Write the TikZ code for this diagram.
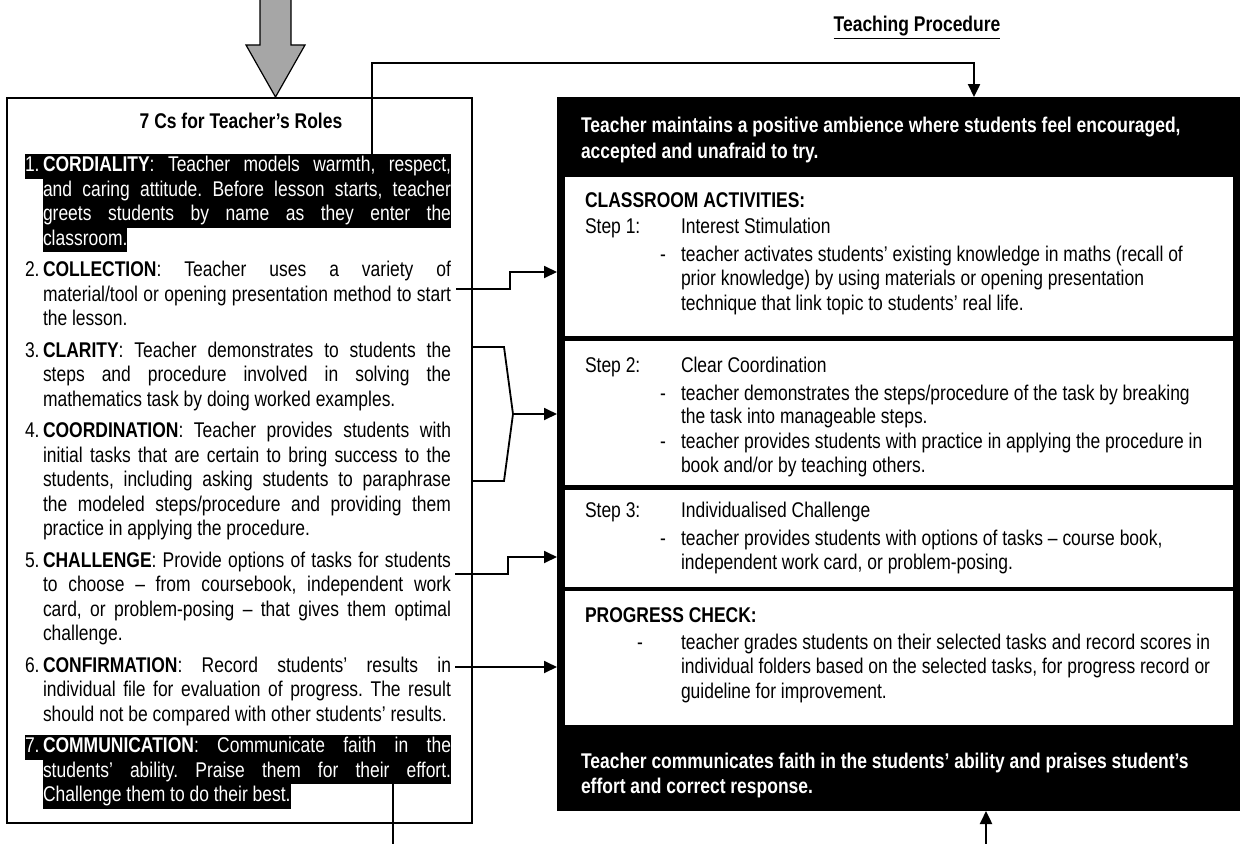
\documentclass[tikz,border=0pt]{standalone}
\usepackage{fontspec}
\setmainfont{Liberation Sans}[FakeStretch=0.82]
\usetikzlibrary{arrows.meta}
\frenchspacing
\newcommand\bodyfont{\fontsize{21.3pt}{24.5pt}\selectfont}
\tikzset{
  ltxt/.style={anchor=base west, inner sep=0pt, outer sep=0pt, font=\bodyfont, text height=17.5pt, text depth=7pt},
  hl/.style={fill=black, text=white},
  rtxt/.style={anchor=base west, inner sep=0pt, outer sep=0pt, font=\bodyfont},
  wtxt/.style={rtxt, text=white, font=\bodyfont\bfseries},
  link/.style={line width=1.8pt},
  heavy/.style={line width=2.4pt},
  tip/.style={-{Triangle[length=13pt,width=12pt]}},
  panel/.style={fill=white, anchor=north west, inner sep=0pt, outer sep=0pt, minimum width=668pt},
}
\newcommand\Jst[1]{\makebox[408pt][s]{#1}}
\newcommand\Lbl[1]{\makebox[18pt][l]{#1}}
\begin{document}
\begin{tikzpicture}[x=1pt,y=-1pt]
\useasboundingbox (0,0) rectangle (1241,843);

% incoming grey block arrow
\draw[line width=1.2pt, fill=black!35] (260,-3) -- (260,45) -- (246,45) -- (275.5,97)
  -- (305,45) -- (291,45) -- (291,-3) -- cycle;

% ---------- left box: 7 Cs ----------
\node[draw, line width=1.5pt, minimum width=465pt, minimum height=725pt, anchor=north west, inner sep=0pt] (roles) at (6,97) {};
\node[font=\bodyfont\bfseries, anchor=base] (title) at (241,128) {7 Cs for Teacher’s Roles};

\node[ltxt,hl] (i1a) at (25,171.5) {\Lbl{1.}\Jst{\textbf{CORDIALITY}: Teacher models warmth, respect,}};
\node[ltxt,hl] (i1b) at (43,196)   {\Jst{and caring attitude. Before lesson starts, teacher}};
\node[ltxt,hl] (i1c) at (43,220.5) {\Jst{greets students by name as they enter the}};
\node[ltxt,hl] (i1d) at (43,245)   {classroom.};

\node[ltxt] (i2a) at (25,276.5) {\Lbl{2.}\Jst{\textbf{COLLECTION}: Teacher uses a variety of}};
\node[ltxt] (i2b) at (43,301)   {\Jst{material/tool or opening presentation method to start}};
\node[ltxt] (i2c) at (43,325.5) {the lesson.};

\node[ltxt] (i3a) at (25,357)   {\Lbl{3.}\Jst{\textbf{CLARITY}: Teacher demonstrates to students the}};
\node[ltxt] (i3b) at (43,381.5) {\Jst{steps and procedure involved in solving the}};
\node[ltxt] (i3c) at (43,406)   {mathematics task by doing worked examples.};

\node[ltxt] (i4a) at (25,437.5) {\Lbl{4.}\Jst{\textbf{COORDINATION}: Teacher provides students with}};
\node[ltxt] (i4b) at (43,462)   {\Jst{initial tasks that are certain to bring success to the}};
\node[ltxt] (i4c) at (43,486.5) {\Jst{students, including asking students to paraphrase}};
\node[ltxt] (i4d) at (43,511)   {\Jst{the modeled steps/procedure and providing them}};
\node[ltxt] (i4e) at (43,535.5) {practice in applying the procedure.};

\node[ltxt] (i5a) at (25,567)   {\Lbl{5.}\Jst{\textbf{CHALLENGE}: Provide options of tasks for students}};
\node[ltxt] (i5b) at (43,591.5) {\Jst{to choose – from coursebook, independent work}};
\node[ltxt] (i5c) at (43,616)   {\Jst{card, or problem-posing – that gives them optimal}};
\node[ltxt] (i5d) at (43,640.5) {challenge.};

\node[ltxt] (i6a) at (25,672)   {\Lbl{6.}\Jst{\textbf{CONFIRMATION}: Record students’ results in}};
\node[ltxt] (i6b) at (43,696.5) {\Jst{individual file for evaluation of progress. The result}};
\node[ltxt] (i6c) at (43,721)   {should not be compared with other students’ results.};

\node[ltxt,hl] (i7a) at (25,752.5) {\Lbl{7.}\Jst{\textbf{COMMUNICATION}: Communicate faith in the}};
\node[ltxt,hl] (i7b) at (43,777)   {\Jst{students’ ability. Praise them for their effort.}};
\node[ltxt,hl] (i7c) at (43,801.5) {Challenge them to do their best.};

% ---------- right box: teaching procedure ----------
\node[font=\bodyfont\bfseries, anchor=base] (tp) at (917,32) {\underline{Teaching Procedure}};

\node[fill=black, minimum width=683pt, minimum height=714pt, anchor=north west, inner sep=0pt, outer sep=0pt] (proc) at (557,97) {};
\node[panel, minimum height=159pt] (p1) at (565,177) {};
\node[panel, minimum height=144pt] (p2) at (565,341) {};
\node[panel, minimum height=97pt]  (p3) at (565,490) {};
\node[panel, minimum height=134pt] (p4) at (565,591) {};

\node[wtxt] (b1a) at (581,132) {Teacher maintains a positive ambience where students feel encouraged,};
\node[wtxt] (b1b) at (581,158) {accepted and unafraid to try.};

\node[rtxt, font=\bodyfont\bfseries] (ca) at (585,207) {CLASSROOM ACTIVITIES:};
\node[rtxt] (s1)  at (585,233) {Step 1:};
\node[rtxt] (s1t) at (681,233) {Interest Stimulation};
\node[rtxt] (s1d) at (660,261) {-};
\node[rtxt] (s1a) at (681,261) {teacher activates students’ existing knowledge in maths (recall of};
\node[rtxt] (s1b) at (681,285.5) {prior knowledge) by using materials or opening presentation};
\node[rtxt] (s1c) at (681,310) {technique that link topic to students’ real life.};

\node[rtxt] (s2)  at (585,372)   {Step 2:};
\node[rtxt] (s2t) at (681,372)   {Clear Coordination};
\node[rtxt] (s2d) at (660,400)   {-};
\node[rtxt] (s2a) at (681,400)   {teacher demonstrates the steps/procedure of the task by breaking};
\node[rtxt] (s2b) at (681,423.5) {the task into manageable steps.};
\node[rtxt] (s2e) at (660,448)   {-};
\node[rtxt] (s2c) at (681,448)   {teacher provides students with practice in applying the procedure in};
\node[rtxt] (s2f) at (681,472)   {book and/or by teaching others.};

\node[rtxt] (s3)  at (585,517) {Step 3:};
\node[rtxt] (s3t) at (681,517) {Individualised Challenge};
\node[rtxt] (s3d) at (660,545) {-};
\node[rtxt] (s3a) at (681,545) {teacher provides students with options of tasks – course book,};
\node[rtxt] (s3b) at (681,569) {independent work card, or problem-posing.};

\node[rtxt, font=\bodyfont\bfseries] (pc) at (585,622) {PROGRESS CHECK:};
\node[rtxt] (pcd) at (637,649) {-};
\node[rtxt] (pca) at (681,649) {teacher grades students on their selected tasks and record scores in};
\node[rtxt] (pcb) at (681,673) {individual folders based on the selected tasks, for progress record or};
\node[rtxt] (pcc) at (681,698) {guideline for improvement.};

\node[wtxt] (b2a) at (581,768) {Teacher communicates faith in the students’ ability and praises student’s};
\node[wtxt] (b2b) at (581,793) {effort and correct response.};

% ---------- connectors ----------
\coordinate (c1s) at (372,155);
\coordinate (c1k) at (974,63);
\coordinate (c1e) at (974,97);
\draw[heavy, tip] (c1s) |- (c1k) -- (c1e);

\coordinate (c2s) at (456,289);
\coordinate (c2k) at (510,272);
\coordinate (c2e) at (557,272);
\draw[link, tip] (c2s) -| (c2k) -- (c2e);

\coordinate (bt) at (472,347);
\coordinate (bb) at (472,481);
\coordinate (br) at (513,414);
\coordinate (c3e) at (557,414);
\draw[link] (bt) -- (504,347) -- (br) -- (504,481) -- (bb);
\draw[link, tip] (br) -- (c3e);

\coordinate (c5s) at (455,574);
\coordinate (c5k) at (508,557);
\coordinate (c5e) at (557,557);
\draw[link, tip] (c5s) -| (c5k) -- (c5e);

\coordinate (c6s) at (455,667);
\coordinate (c6e) at (557,667);
\draw[link, tip] (c6s) -- (c6e);

\coordinate (c7s) at (393,782);
\coordinate (c7e) at (393,846);
\draw[heavy] (c7s) -- (c7e);

\coordinate (c8s) at (986,846);
\coordinate (c8e) at (986,811);
\draw[heavy, tip] (c8s) -- (c8e);
\end{tikzpicture}
\end{document}
